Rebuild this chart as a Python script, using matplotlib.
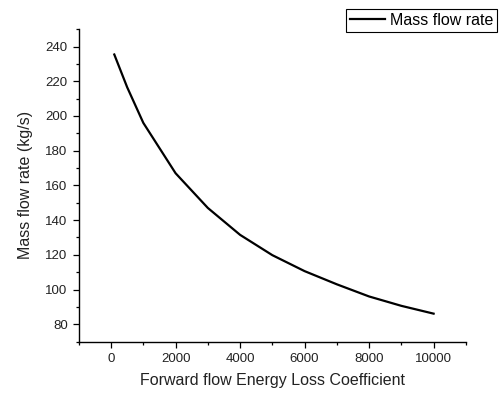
import matplotlib
matplotlib.use("Agg")
import matplotlib.pyplot as plt
from matplotlib.ticker import MultipleLocator

plt.rcParams['font.family'] = ['Liberation Sans', 'DejaVu Sans']

# Forward flow energy loss coefficient vs mass flow rate
loss_coef = [100, 500, 1000, 2000, 3000, 4000, 5000, 6000, 7000, 8000, 9000, 10000]
mass_flow = [235.4, 216.5, 196.0, 167.0, 147.0, 131.5, 119.8, 110.6, 103.0, 96.0, 90.6, 86.1]

fig = plt.figure(figsize=(5.02, 3.94), dpi=100)
ax = fig.add_axes([0.157, 0.133, 0.771, 0.793])

ax.plot(loss_coef, mass_flow, color="black", lw=1.6, label="Mass flow rate")

ax.set_xlim(-1000, 11000)
ax.set_ylim(70, 250)
ax.xaxis.set_major_locator(MultipleLocator(2000))
ax.xaxis.set_minor_locator(MultipleLocator(1000))
ax.yaxis.set_major_locator(MultipleLocator(20))
ax.yaxis.set_minor_locator(MultipleLocator(10))
ax.set_xticks([0, 2000, 4000, 6000, 8000, 10000])

ax.spines['top'].set_visible(False)
ax.spines['right'].set_visible(False)
for s in ['left', 'bottom']:
    ax.spines[s].set_linewidth(1.0)

ax.tick_params(which='major', length=4.5, width=0.9, labelsize=9.5, direction='out',
               colors='black', labelcolor='#222222')
ax.tick_params(which='minor', length=2.5, width=0.9, direction='out')

ax.set_xlabel("Forward flow Energy Loss Coefficient", fontsize=11.5, labelpad=6, color='#222222')
ax.set_ylabel("Mass flow rate (kg/s)", fontsize=11.5, labelpad=9, color='#222222')

leg = fig.legend(loc='upper right', bbox_to_anchor=(0.991, 0.978), fontsize=11.5,
                 fancybox=False, edgecolor='black', framealpha=1,
                 borderpad=0.25, borderaxespad=0, handlelength=2.2, handletextpad=0.3)
leg.get_frame().set_linewidth(0.8)

fig.savefig("out.png", dpi=100)
